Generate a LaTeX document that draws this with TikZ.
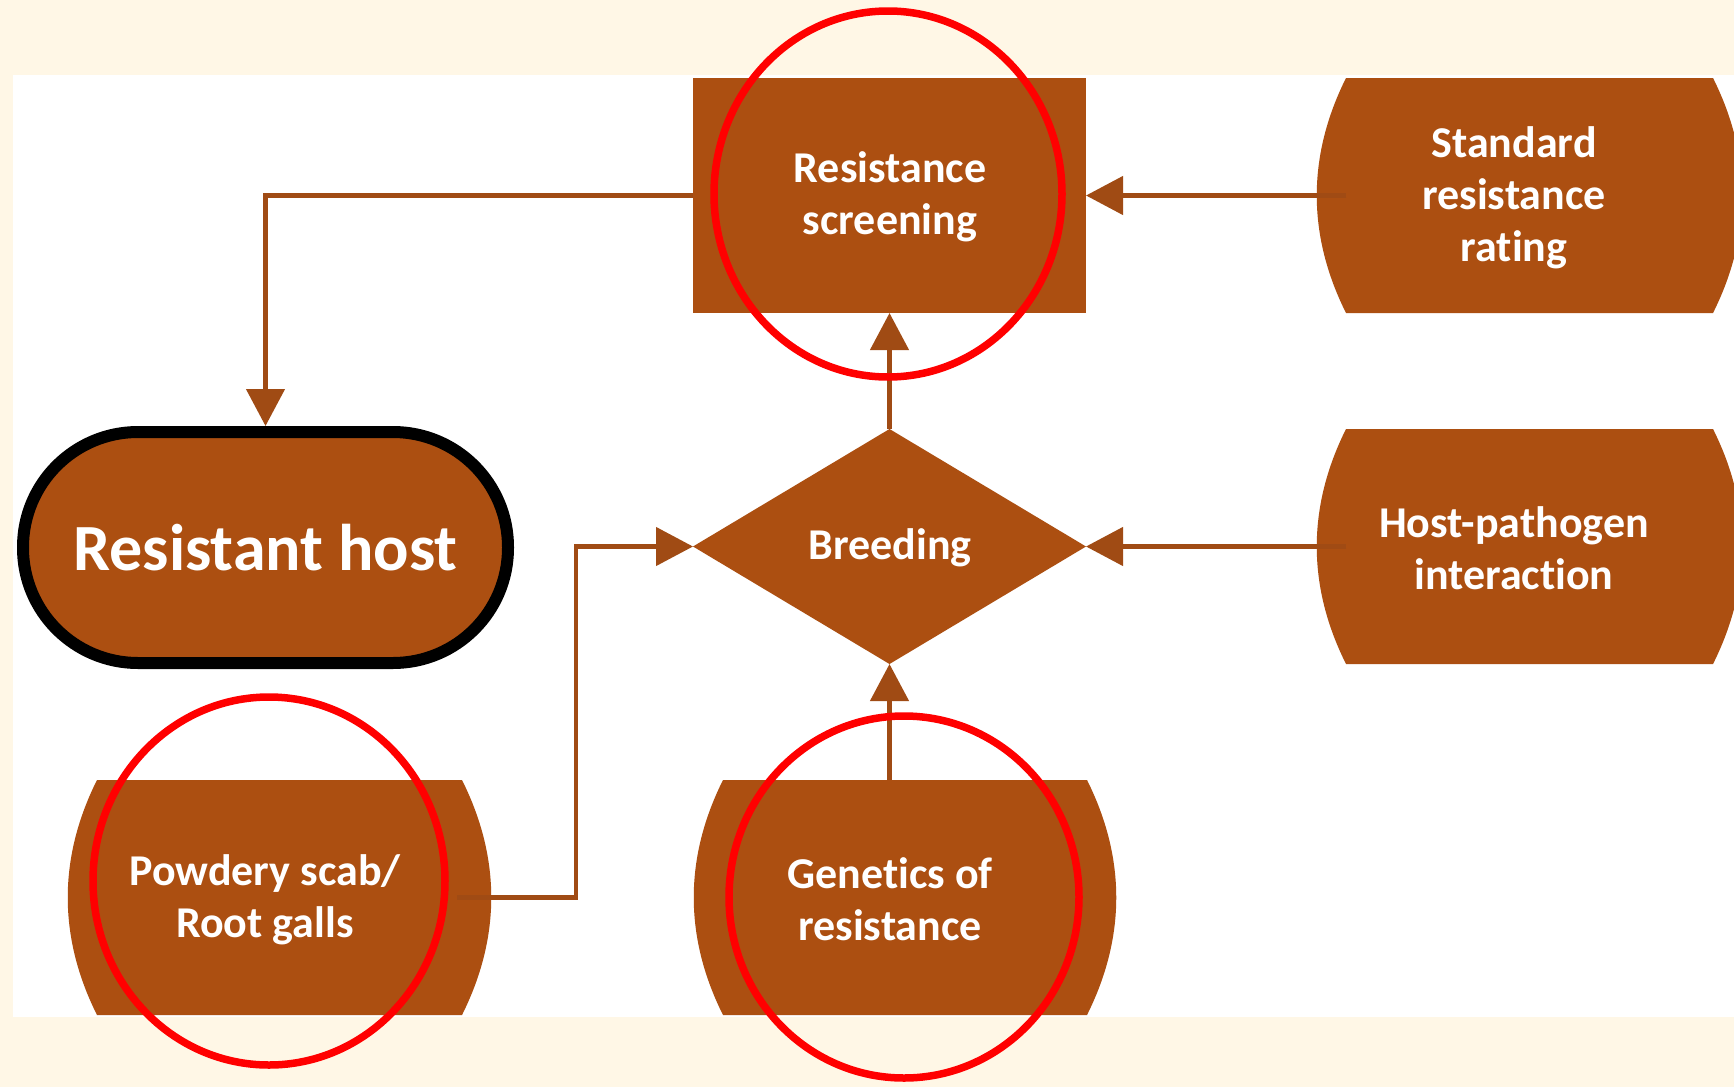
\documentclass[tikz,border=0pt]{standalone}
\usepackage{fontspec}
\setmainfont{Carlito}[Ligatures={NoCommon}]
\usetikzlibrary{arrows.meta,calc}
\definecolor{cream}{HTML}{FFF7E6}
\definecolor{brn}{HTML}{AC4F11}
\definecolor{brnline}{HTML}{A04B14}
\newcommand\barrelfill[1]{\fill[brn] (#1.north west) -- (#1.north east)
  .. controls ($(#1.north east)+(39,78)$) and ($(#1.south east)+(39,-78)$) .. (#1.south east)
  -- (#1.south west)
  .. controls ($(#1.south west)+(-39,-78)$) and ($(#1.north west)+(-39,78)$) .. cycle;}
\begin{document}
\begin{tikzpicture}[x=1pt,y=-1pt,
  lbl/.style={text=white,font=\bfseries\fontsize{44}{52}\selectfont,align=center,inner sep=0pt},
  area/.style={inner sep=0pt,outer sep=0pt,minimum width=#1},
  conn/.style={draw=brnline,line width=4.5pt,-{Triangle[length=37pt,width=38pt]}},
  redring/.style={draw=red,line width=7.5pt}]
\useasboundingbox (0,0) rectangle (1734,1087);
\clip (0,0) rectangle (1734,1087);
\fill[cream] (0,0) rectangle (1734,1087);
\fill[white] (13,75) rectangle (1734,1017);
% areas
\node[area=393pt,minimum height=235pt] (rs) at (889.5,195.5) {};
\node[area=393pt,minimum height=235pt] (br) at (889.5,546.5) {};
\node[area=367pt,minimum height=235pt] (sr) at (1529.5,195.5) {};
\node[area=367pt,minimum height=235pt] (hp) at (1529.5,546.5) {};
\node[area=365pt,minimum height=235pt] (ps) at (279.5,897.5) {};
\node[area=364pt,minimum height=235pt] (gen) at (905,897.5) {};
% shapes
\fill[brn] (rs.north west) rectangle (rs.south east);
\fill[brn] (br.west) -- (br.north) -- (br.east) -- (br.south) -- cycle;
\barrelfill{sr}
\barrelfill{hp}
\barrelfill{ps}
\barrelfill{gen}
\node[draw=black,fill=brn,line width=12pt,rounded corners=115pt,minimum width=485pt,minimum height=231pt,inner sep=0pt,
  text=white,font=\bfseries\fontsize{66}{72}\selectfont] (rh) at (265.5,547.5) {Resistant host};
% labels
\node[lbl] (rsT) at (890,197) {Resistance\\screening};
\node[lbl] (brT) at (890,548) {Breeding};
\node[lbl] (srT) at (1514,197.5) {Standard\\resistance\\rating};
\node[lbl] (hpT) at (1514,548) {Host-pathogen\\interaction};
\node[lbl] (psT) at (265,900) {Powdery scab/\\Root galls};
\node[lbl] (genT) at (890,899) {Genetics of\\resistance};
% connectors
\coordinate (jog) at (576,546.5);
\draw[conn] (rs.west) -| (rh.north);
\draw[conn] (sr.west) -- (rs.east);
\draw[conn] (br.north) -- (rs.south);
\draw[conn] (hp.west) -- (br.east);
\draw[conn] (gen.north -| br.south) -- (br.south);
\draw[conn] ([xshift=-5pt]ps.east) -| (jog) -- (br.west);
% red rings
\draw[redring] (888,194) ellipse [x radius=174, y radius=183];
\draw[redring] (269,881) ellipse [x radius=176, y radius=184];
\draw[redring] (904,897) ellipse [x radius=175, y radius=181];
\end{tikzpicture}
\end{document}
